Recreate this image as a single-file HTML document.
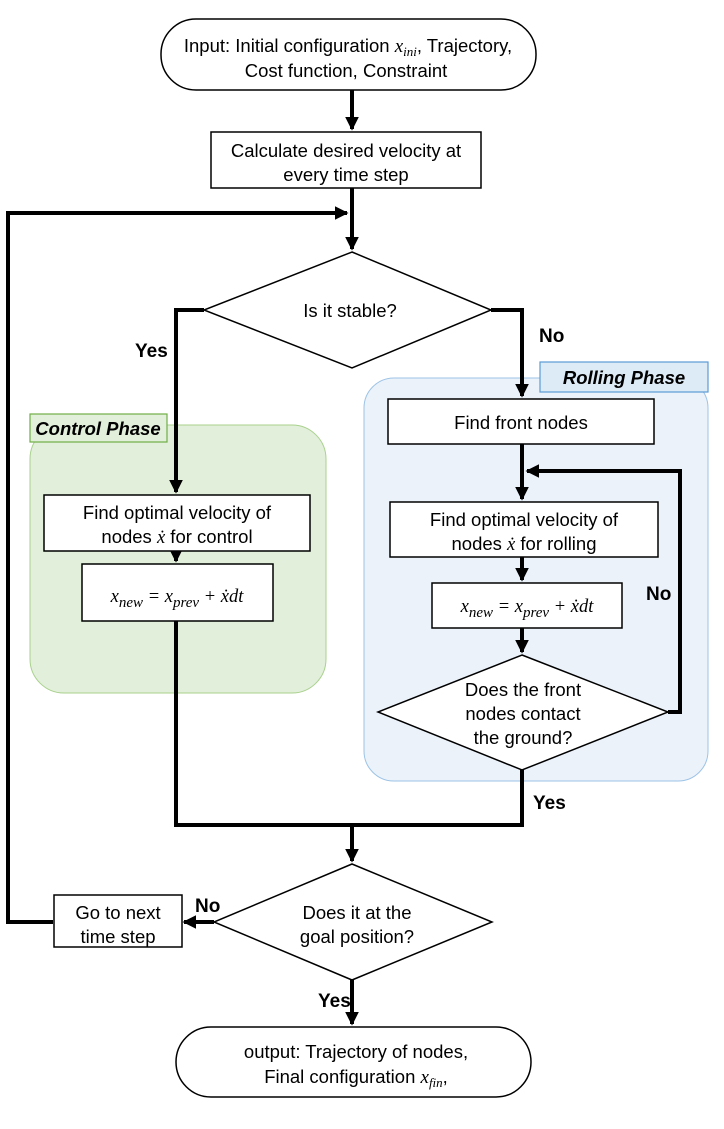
<!DOCTYPE html>
<html><head><meta charset="utf-8"><style>
html,body{margin:0;padding:0;background:#fff}
svg text{font-family:"Liberation Sans Narrow","Liberation Sans",sans-serif;font-size:18.5px;fill:#000}
.m{font-family:"Liberation Serif",serif;font-style:italic}
.b{font-weight:bold;font-size:19px}
</style></head><body>
<svg width="724" height="1124" viewBox="0 0 724 1124" xmlns="http://www.w3.org/2000/svg">
<defs><marker id="a" markerWidth="3.4" markerHeight="3.4" refX="3" refY="1.7" orient="auto" markerUnits="strokeWidth"><path d="M0,0 L3.4,1.7 L0,3.4z" fill="#000"/></marker></defs>
<rect x="30" y="425" width="296" height="268" rx="34" fill="#E2EFDA" stroke="#A9D18E" stroke-width="1"/>
<rect x="30" y="414" width="137" height="28" fill="#E2EFDA" stroke="#70AD47" stroke-width="1.2"/>
<text x="98" y="435" text-anchor="middle" font-weight="bold" font-style="italic" font-size="17">Control Phase</text>
<rect x="364" y="378" width="344" height="403" rx="30" fill="#EBF2FA" stroke="#9DC3E6" stroke-width="1"/>
<rect x="540" y="362" width="168" height="30" fill="#DDEBF7" stroke="#5B9BD5" stroke-width="1.2"/>
<text x="624" y="384" text-anchor="middle" font-weight="bold" font-style="italic" font-size="17">Rolling Phase</text>
<g stroke="#000" stroke-width="4" fill="none">
<line x1="352" y1="90" x2="352" y2="129" marker-end="url(#a)"/>
<line x1="352" y1="188" x2="352" y2="249" marker-end="url(#a)"/>
<polyline points="53,922 8,922 8,213 347,213" marker-end="url(#a)"/>
<polyline points="204,310 176,310 176,492" marker-end="url(#a)"/>
<polyline points="491,310 522,310 522,396" marker-end="url(#a)"/>
<line x1="522" y1="444" x2="522" y2="499" marker-end="url(#a)"/>
<polyline points="668,712 680,712 680,471 527,471" marker-end="url(#a)"/>
<line x1="522" y1="557" x2="522" y2="580" marker-end="url(#a)"/>
<line x1="522" y1="628" x2="522" y2="652" marker-end="url(#a)"/>
<line x1="176" y1="551" x2="176" y2="561" marker-end="url(#a)"/>
<polyline points="176,621 176,825 522,825 522,770"/>
<line x1="352" y1="825" x2="352" y2="861" marker-end="url(#a)"/>
<line x1="214" y1="922" x2="184" y2="922" marker-end="url(#a)"/>
<line x1="352" y1="980" x2="352" y2="1024" marker-end="url(#a)"/>
</g>
<g stroke="#000" stroke-width="1.5" fill="#fff">
<rect x="161" y="19" width="375" height="71" rx="35"/>
<rect x="211" y="132" width="270" height="56"/>
<polygon points="352,252 491,310 352,368 204,310"/>
<rect x="388" y="399" width="266" height="45"/>
<rect x="390" y="502" width="268" height="55"/>
<rect x="432" y="583" width="190" height="45"/>
<polygon points="522,655 668,712 522,770 378,712"/>
<rect x="44" y="495" width="266" height="56"/>
<rect x="82" y="564" width="191" height="57"/>
<polygon points="352,864 492,922 352,980 214,922"/>
<rect x="54" y="895" width="128" height="52"/>
<rect x="176" y="1027" width="355" height="70" rx="35"/>
</g>
<text x="348" y="52" text-anchor="middle">Input: Initial configuration <tspan class="m" font-size="19">x</tspan><tspan class="m" font-size="13" dy="4">ini</tspan><tspan dy="-4">, Trajectory,</tspan></text>
<text x="346" y="77" text-anchor="middle">Cost function, Constraint</text>
<text x="346" y="157" text-anchor="middle">Calculate desired velocity at</text>
<text x="346" y="181" text-anchor="middle">every time step</text>
<text x="350" y="317" text-anchor="middle">Is it stable?</text>
<text x="521" y="429" text-anchor="middle">Find front nodes</text>
<text x="524" y="526" text-anchor="middle">Find optimal velocity of</text>
<text x="524" y="550" text-anchor="middle">nodes <tspan class="m">ẋ</tspan> for rolling</text>
<text x="527" y="612" text-anchor="middle" class="m" font-size="22">x<tspan font-size="15" dy="5">new</tspan><tspan dy="-5"> = x</tspan><tspan font-size="15" dy="5">prev</tspan><tspan dy="-5"> + ẋdt</tspan></text>
<text x="523" y="696" text-anchor="middle">Does the front</text>
<text x="523" y="720" text-anchor="middle">nodes contact</text>
<text x="523" y="744" text-anchor="middle">the ground?</text>
<text x="177" y="519" text-anchor="middle">Find optimal velocity of</text>
<text x="177" y="543" text-anchor="middle">nodes <tspan class="m">ẋ</tspan> for control</text>
<text x="177" y="602" text-anchor="middle" class="m" font-size="22">x<tspan font-size="15" dy="5">new</tspan><tspan dy="-5"> = x</tspan><tspan font-size="15" dy="5">prev</tspan><tspan dy="-5"> + ẋdt</tspan></text>
<text x="357" y="919" text-anchor="middle">Does it at the</text>
<text x="357" y="943" text-anchor="middle">goal position?</text>
<text x="118" y="919" text-anchor="middle">Go to next</text>
<text x="118" y="943" text-anchor="middle">time step</text>
<text x="356" y="1058" text-anchor="middle">output: Trajectory of nodes,</text>
<text x="356" y="1083" text-anchor="middle">Final configuration <tspan class="m" font-size="19">x</tspan><tspan class="m" font-size="13" dy="4">fin</tspan><tspan dy="-4">,</tspan></text>
<text x="135" y="357" class="b">Yes</text>
<text x="539" y="342" class="b">No</text>
<text x="646" y="600" class="b">No</text>
<text x="533" y="809" class="b">Yes</text>
<text x="195" y="912" class="b">No</text>
<text x="318" y="1007" class="b">Yes</text>
</svg>
</body></html>
